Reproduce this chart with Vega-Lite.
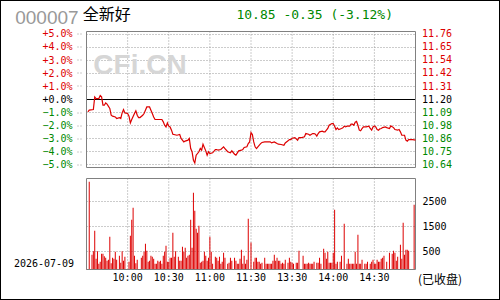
{
  "$schema": "https://vega.github.io/schema/vega-lite/v6.json",
  "width": 500,
  "height": 300,
  "autosize": "none",
  "padding": 0,
  "background": "white",
  "config": {
    "view": {"stroke": "#000000", "strokeWidth": 2},
    "axis": {"grid": false, "domain": false, "title": null, "labelFont": "DejaVu Sans Mono", "labelFontSize": 10, "labelColor": "#000000", "labelOverlap": false, "labelBound": false, "labelFlush": false}
  },
  "datasets": {
    "price": [
      {"m":1,"pct":-0.95},{"m":2,"pct":-0.82},{"m":5,"pct":-0.77},{"m":6,"pct":0.20},{"m":7,"pct":0.07},{"m":9,"pct":0.07},{"m":10,"pct":0.31},{"m":11,"pct":0.20},{"m":12,"pct":-0.44},{"m":13,"pct":-0.44},{"m":14,"pct":-0.26},{"m":15,"pct":-0.36},{"m":17,"pct":-0.69},{"m":18,"pct":-1.21},{"m":19,"pct":-1.28},{"m":21,"pct":-1.34},{"m":22,"pct":-1.46},{"m":24,"pct":-1.39},{"m":25,"pct":-1.46},{"m":26,"pct":-1.03},{"m":27,"pct":-0.77},{"m":28,"pct":-1.03},{"m":30,"pct":-1.08},{"m":31,"pct":-1.28},{"m":32,"pct":-1.80},{"m":33,"pct":-1.54},{"m":35,"pct":-1.08},{"m":36,"pct":-0.87},{"m":37,"pct":-1.21},{"m":38,"pct":-1.39},{"m":39,"pct":-1.39},{"m":41,"pct":-1.21},{"m":42,"pct":-1.08},{"m":44,"pct":-0.57},{"m":46,"pct":-0.57},{"m":47,"pct":-0.82},{"m":48,"pct":-1.08},{"m":49,"pct":-1.34},{"m":50,"pct":-1.54},{"m":55,"pct":-1.54},{"m":56,"pct":-1.72},{"m":57,"pct":-1.98},{"m":58,"pct":-2.11},{"m":59,"pct":-1.80},{"m":60,"pct":-2.05},{"m":61,"pct":-2.11},{"m":62,"pct":-2.36},{"m":63,"pct":-2.67},{"m":66,"pct":-2.75},{"m":68,"pct":-2.69},{"m":69,"pct":-3.00},{"m":71,"pct":-3.26},{"m":72,"pct":-3.20},{"m":74,"pct":-3.13},{"m":75,"pct":-3.00},{"m":76,"pct":-3.77},{"m":77,"pct":-4.02},{"m":78,"pct":-4.67},{"m":79,"pct":-4.87},{"m":80,"pct":-4.28},{"m":82,"pct":-4.02},{"m":83,"pct":-3.77},{"m":84,"pct":-3.90},{"m":85,"pct":-3.44},{"m":87,"pct":-3.95},{"m":88,"pct":-4.28},{"m":89,"pct":-4.02},{"m":90,"pct":-4.16},{"m":92,"pct":-4.10},{"m":94,"pct":-3.85},{"m":95,"pct":-3.85},{"m":96,"pct":-3.90},{"m":98,"pct":-3.85},{"m":100,"pct":-3.64},{"m":101,"pct":-3.77},{"m":103,"pct":-4.02},{"m":105,"pct":-4.10},{"m":106,"pct":-3.95},{"m":108,"pct":-4.21},{"m":109,"pct":-4.28},{"m":111,"pct":-3.95},{"m":113,"pct":-3.90},{"m":114,"pct":-3.85},{"m":115,"pct":-3.69},{"m":117,"pct":-3.64},{"m":118,"pct":-3.39},{"m":119,"pct":-3.26},{"m":120,"pct":-2.55},{"m":121,"pct":-2.70},{"m":122,"pct":-3.26},{"m":123,"pct":-3.64},{"m":124,"pct":-3.77},{"m":125,"pct":-3.64},{"m":127,"pct":-3.39},{"m":128,"pct":-3.31},{"m":130,"pct":-3.26},{"m":134,"pct":-3.26},{"m":135,"pct":-3.34},{"m":137,"pct":-3.26},{"m":139,"pct":-3.39},{"m":140,"pct":-3.44},{"m":142,"pct":-3.46},{"m":144,"pct":-3.52},{"m":145,"pct":-3.34},{"m":147,"pct":-3.18},{"m":148,"pct":-3.08},{"m":149,"pct":-3.08},{"m":150,"pct":-2.98},{"m":152,"pct":-2.93},{"m":154,"pct":-3.13},{"m":155,"pct":-2.93},{"m":157,"pct":-2.93},{"m":159,"pct":-2.87},{"m":160,"pct":-2.62},{"m":162,"pct":-2.67},{"m":163,"pct":-2.75},{"m":165,"pct":-2.62},{"m":166,"pct":-2.62},{"m":167,"pct":-2.67},{"m":168,"pct":-2.82},{"m":169,"pct":-2.62},{"m":170,"pct":-2.49},{"m":172,"pct":-2.44},{"m":173,"pct":-2.49},{"m":174,"pct":-2.49},{"m":176,"pct":-2.23},{"m":177,"pct":-1.98},{"m":179,"pct":-1.85},{"m":180,"pct":-1.85},{"m":181,"pct":-2.05},{"m":182,"pct":-2.31},{"m":183,"pct":-2.18},{"m":184,"pct":-2.31},{"m":186,"pct":-2.23},{"m":187,"pct":-2.18},{"m":188,"pct":-2.05},{"m":189,"pct":-2.11},{"m":190,"pct":-2.05},{"m":192,"pct":-2.05},{"m":193,"pct":-1.90},{"m":194,"pct":-1.90},{"m":195,"pct":-1.98},{"m":196,"pct":-1.75},{"m":197,"pct":-1.69},{"m":198,"pct":-1.98},{"m":199,"pct":-2.36},{"m":200,"pct":-2.41},{"m":201,"pct":-2.23},{"m":202,"pct":-2.11},{"m":203,"pct":-2.11},{"m":204,"pct":-2.11},{"m":206,"pct":-2.05},{"m":207,"pct":-2.23},{"m":208,"pct":-2.36},{"m":209,"pct":-2.11},{"m":210,"pct":-2.03},{"m":211,"pct":-2.11},{"m":212,"pct":-2.31},{"m":213,"pct":-2.36},{"m":214,"pct":-2.26},{"m":215,"pct":-2.23},{"m":216,"pct":-2.16},{"m":218,"pct":-2.11},{"m":219,"pct":-2.16},{"m":221,"pct":-2.23},{"m":222,"pct":-2.03},{"m":224,"pct":-2.16},{"m":225,"pct":-2.31},{"m":227,"pct":-2.36},{"m":228,"pct":-2.31},{"m":229,"pct":-2.49},{"m":230,"pct":-2.75},{"m":232,"pct":-2.75},{"m":233,"pct":-3.13},{"m":234,"pct":-3.20},{"m":235,"pct":-3.08},{"m":238,"pct":-3.08},{"m":240,"pct":-3.12}
    ],
    "vol": [
      {"m":0,"v":87},{"m":2,"v":3286},{"m":4,"v":367},{"m":5,"v":513},{"m":6,"v":1327},{"m":7,"v":207},{"m":8,"v":513},{"m":9,"v":10},{"m":10,"v":87},{"m":11,"v":407},{"m":12,"v":407},{"m":13,"v":313},{"m":14,"v":247},{"m":15,"v":127},{"m":16,"v":167},{"m":17,"v":1087},{"m":18,"v":33},{"m":19,"v":247},{"m":20,"v":207},{"m":21,"v":487},{"m":22,"v":167},{"m":24,"v":327},{"m":25,"v":47},{"m":26,"v":513},{"m":27,"v":127},{"m":28,"v":287},{"m":31,"v":87},{"m":32,"v":1127},{"m":33,"v":1767},{"m":34,"v":2247},{"m":35,"v":327},{"m":36,"v":33},{"m":37,"v":167},{"m":40,"v":247},{"m":41,"v":327},{"m":42,"v":487},{"m":43,"v":807},{"m":44,"v":527},{"m":45,"v":87},{"m":46,"v":127},{"m":47,"v":327},{"m":48,"v":287},{"m":49,"v":207},{"m":50,"v":10},{"m":51,"v":10},{"m":52,"v":127},{"m":53,"v":87},{"m":54,"v":127},{"m":55,"v":10},{"m":56,"v":327},{"m":57,"v":487},{"m":58,"v":727},{"m":59,"v":87},{"m":60,"v":87},
      {"m":61,"v":247},{"m":62,"v":247},{"m":63,"v":1247},{"m":64,"v":287},{"m":65,"v":513},{"m":67,"v":287},{"m":68,"v":127},{"m":69,"v":127},{"m":70,"v":687},{"m":71,"v":487},{"m":72,"v":647},{"m":73,"v":247},{"m":74,"v":327},{"m":75,"v":367},{"m":76,"v":1767},{"m":77,"v":647},{"m":78,"v":2847},{"m":79,"v":2127},{"m":80,"v":1407},{"m":81,"v":1247},{"m":82,"v":1527},{"m":83,"v":47},{"m":84,"v":87},{"m":85,"v":127},{"m":86,"v":487},{"m":87,"v":327},{"m":88,"v":127},{"m":89,"v":247},{"m":90,"v":1087},{"m":91,"v":487},{"m":92,"v":10},{"m":94,"v":287},{"m":95,"v":247},{"m":96,"v":127},{"m":97,"v":287},{"m":98,"v":10},{"m":99,"v":87},{"m":100,"v":447},{"m":101,"v":247},{"m":103,"v":10},{"m":104,"v":47},{"m":105,"v":247},{"m":106,"v":127},{"m":108,"v":247},{"m":109,"v":127},{"m":110,"v":10},{"m":111,"v":10},{"m":112,"v":207},{"m":113,"v":567},{"m":114,"v":10},{"m":115,"v":327},{"m":116,"v":10},{"m":117,"v":167},{"m":118,"v":1807},{"m":120,"v":860},
      {"m":122,"v":87},{"m":123,"v":247},{"m":124,"v":247},{"m":125,"v":87},{"m":126,"v":87},{"m":127,"v":10},{"m":128,"v":47},{"m":130,"v":247},{"m":131,"v":10},{"m":132,"v":10},{"m":133,"v":10},{"m":134,"v":10},{"m":135,"v":10},{"m":136,"v":127},{"m":137,"v":367},{"m":138,"v":127},{"m":139,"v":247},{"m":140,"v":127},{"m":141,"v":127},{"m":142,"v":10},{"m":143,"v":47},{"m":144,"v":10},{"m":145,"v":167},{"m":147,"v":47},{"m":148,"v":247},{"m":149,"v":87},{"m":150,"v":47},{"m":151,"v":10},{"m":153,"v":47},{"m":154,"v":47},{"m":155,"v":527},{"m":158,"v":327},{"m":159,"v":10},{"m":160,"v":10},{"m":161,"v":10},{"m":162,"v":47},{"m":163,"v":10},{"m":164,"v":10},{"m":165,"v":10},{"m":166,"v":87},{"m":168,"v":47},{"m":169,"v":47},{"m":170,"v":247},{"m":171,"v":10},{"m":173,"v":607},{"m":174,"v":447},{"m":175,"v":207},{"m":176,"v":487},{"m":177,"v":47},{"m":178,"v":47},{"m":179,"v":47},
      {"m":180,"v":447},{"m":181,"v":2167},{"m":182,"v":10},{"m":183,"v":87},{"m":185,"v":87},{"m":186,"v":327},{"m":188,"v":1607},{"m":190,"v":10},{"m":191,"v":207},{"m":192,"v":10},{"m":193,"v":10},{"m":194,"v":10},{"m":195,"v":10},{"m":196,"v":487},{"m":197,"v":10},{"m":198,"v":1167},{"m":199,"v":10},{"m":200,"v":10},{"m":201,"v":167},{"m":203,"v":10},{"m":204,"v":10},{"m":205,"v":87},{"m":207,"v":10},{"m":208,"v":87},{"m":209,"v":167},{"m":210,"v":10},{"m":211,"v":10},{"m":212,"v":167},{"m":213,"v":87},{"m":214,"v":87},{"m":215,"v":207},{"m":216,"v":247},{"m":217,"v":327},{"m":219,"v":87},{"m":221,"v":447},{"m":223,"v":407},{"m":224,"v":527},{"m":225,"v":447},{"m":226,"v":127},{"m":227,"v":287},{"m":229,"v":767},{"m":230,"v":207},{"m":231,"v":1647},{"m":232,"v":367},{"m":233,"v":567},{"m":234,"v":567},{"m":235,"v":527},{"m":239,"v":2367}
    ],
    "pctgrid": [{"g":-5},{"g":-4},{"g":-3},{"g":-2},{"g":-1},{"g":1},{"g":2},{"g":3},{"g":4},{"g":5}],
    "timegrid": [{"t":30},{"t":60},{"t":90},{"t":120},{"t":150},{"t":180},{"t":210}],
    "pricelev": [{"p":10.64},{"p":10.752},{"p":10.864},{"p":10.976},{"p":11.088},{"p":11.2},{"p":11.312},{"p":11.424},{"p":11.536},{"p":11.648},{"p":11.76}],
    "volgrid": [{"lv":500},{"lv":1500},{"lv":2500}],
    "one": [{}]
  },
  "layer": [
    {
      "layer": [
        {
          "data": {"name": "timegrid"},
          "mark": {"type": "rule", "stroke": "#999999", "strokeWidth": 1, "strokeDash": [1, 2]},
          "encoding": {
            "x": {"field": "t", "type": "quantitative", "scale": {"domain": [0, 240], "range": [81.5, 420.5], "nice": false, "zero": false},
              "axis": {"orient": "bottom", "offset": -30.5, "translate": 0, "values": [30, 60, 90, 120, 150, 180, 210], "tickCount": 7, "ticks": false, "tickSize": 0, "labelPadding": 3, "labelOverlap": false, "labelExpr": "datum.value == 30 ? '10:00' : datum.value == 60 ? '10:30' : datum.value == 90 ? '11:00' : datum.value == 120 ? '11:30' : datum.value == 150 ? '13:30' : datum.value == 180 ? '14:00' : '14:30'"}},
            "y": {"datum": -5.230769, "type": "quantitative"},
            "y2": {"datum": 5.230769}
          }
        },
        {
          "data": {"name": "pctgrid"},
          "mark": {"type": "rule", "stroke": "#999999", "strokeWidth": 1, "strokeDash": [1, 2]},
          "encoding": {
            "x": {"datum": 0, "type": "quantitative"},
            "x2": {"datum": 240},
            "y": {"field": "g", "type": "quantitative", "scale": {"domain": [-5.230769, 5.230769], "range": [167.5, 31.5], "nice": false, "zero": false},
              "axis": {"orient": "left", "offset": -81.5, "translate": 0, "values": [-5, -4, -3, -2, -1, 0, 1, 2, 3, 4, 5], "tickCount": 11, "labelOverlap": false, "labelExpr": "format(datum.value, '+.1f') + '%'", "ticks": true, "tickSize": 5, "tickDash": [1, 2], "tickColor": {"condition": {"test": "datum.value == 0", "value": "transparent"}, "value": "#999999"}, "labelPadding": 4, "labelColor": {"condition": [{"test": "datum.value > 0", "value": "#dd0000"}, {"test": "datum.value == 0", "value": "#000000"}], "value": "#008800"}}}
          }
        },
        {
          "data": {"name": "one"},
          "mark": {"type": "text", "text": "CFi.CN", "font": "Liberation Sans", "fontWeight": "bold", "fontSize": 28, "fill": "#d6d6d6", "align": "left", "baseline": "alphabetic"},
          "encoding": {"x": {"datum": 5.0, "type": "quantitative"}, "y": {"datum": 1.94, "type": "quantitative"}}
        },
        {
          "data": {"name": "one"},
          "mark": {"type": "rule", "stroke": "#000000", "strokeWidth": 1},
          "encoding": {"x": {"datum": 0, "type": "quantitative"}, "x2": {"datum": 240}, "y": {"datum": 0, "type": "quantitative"}}
        },
        {
          "data": {"name": "one"},
          "mark": {"type": "rect", "filled": false, "stroke": "#808080", "strokeWidth": 1},
          "encoding": {"x": {"datum": 0, "type": "quantitative"}, "x2": {"datum": 240}, "y": {"datum": -5.230769, "type": "quantitative"}, "y2": {"datum": 5.230769}}
        },
        {
          "data": {"name": "price"},
          "mark": {"type": "line", "stroke": "#dd0000", "strokeWidth": 1.2},
          "encoding": {"x": {"field": "m", "type": "quantitative"}, "y": {"field": "pct", "type": "quantitative"}}
        },
        {
          "data": {"name": "one"},
          "mark": {"type": "text", "text": "000007", "font": "Liberation Sans", "fontSize": 19, "fill": "#999999", "align": "left", "baseline": "alphabetic"},
          "encoding": {"x": {"datum": -52.0, "type": "quantitative"}, "y": {"datum": 5.81, "type": "quantitative"}}
        },
        {
          "data": {"name": "one"},
          "mark": {"type": "text", "text": "全新好", "font": "Noto Sans CJK SC", "fontSize": 16, "fill": "#000000", "align": "left", "baseline": "alphabetic"},
          "encoding": {"x": {"datum": -2.8, "type": "quantitative"}, "y": {"datum": 6.08, "type": "quantitative"}}
        },
        {
          "data": {"name": "one"},
          "mark": {"type": "text", "text": "10.85 -0.35 (-3.12%)", "font": "DejaVu Sans Mono", "fontSize": 13, "fill": "#008800", "align": "left", "baseline": "alphabetic"},
          "encoding": {"x": {"datum": 109.4, "type": "quantitative"}, "y": {"datum": 6.154, "type": "quantitative"}}
        }
      ]
    },
    {
      "data": {"name": "pricelev"},
      "mark": {"type": "rule", "strokeOpacity": 0},
      "encoding": {
        "x": {"datum": 0, "type": "quantitative"},
        "x2": {"datum": 240},
        "y": {"field": "p", "type": "quantitative", "scale": {"domain": [10.614154, 11.785846], "range": [167.5, 31.5], "nice": false, "zero": false},
          "axis": {"orient": "right", "offset": -80, "translate": 0, "values": [10.64, 10.752, 10.864, 10.976, 11.088, 11.2, 11.312, 11.424, 11.536, 11.648, 11.76], "tickCount": 11, "format": ".2f", "labelOverlap": false, "ticks": false, "tickSize": 0, "labelPadding": 2, "labelColor": {"condition": [{"test": "datum.value > 11.201", "value": "#dd0000"}, {"test": "datum.value < 11.199", "value": "#008800"}], "value": "#000000"}}}
      }
    },
    {
      "layer": [
        {
          "data": {"name": "timegrid"},
          "mark": {"type": "rule", "stroke": "#999999", "strokeWidth": 1, "strokeDash": [1, 2]},
          "encoding": {"x": {"field": "t", "type": "quantitative"}, "y": {"datum": -220, "type": "quantitative"}, "y2": {"datum": 3420}}
        },
        {
          "data": {"name": "volgrid"},
          "mark": {"type": "rule", "stroke": "#999999", "strokeWidth": 1, "strokeDash": [1, 2]},
          "encoding": {"x": {"datum": 0, "type": "quantitative"}, "x2": {"datum": 240}, "y": {"field": "lv", "type": "quantitative"}}
        },
        {
          "data": {"name": "vol"},
          "mark": {"type": "bar", "fill": "#dd0000", "size": 1},
          "encoding": {
            "x": {"field": "m", "type": "quantitative"},
            "y": {"field": "v", "type": "quantitative", "scale": {"domain": [-220, 3420], "range": [269.5, 178.5], "nice": false, "zero": false},
              "axis": {"orient": "right", "offset": -80, "translate": 0, "values": [500, 1500, 2500], "tickCount": 3, "format": "d", "labelOverlap": false, "ticks": false, "tickSize": 0, "labelPadding": 2.5, "labelColor": "#000000"}},
            "y2": {"datum": -220}
          }
        },
        {
          "data": {"name": "one"},
          "mark": {"type": "rect", "filled": false, "stroke": "#808080", "strokeWidth": 1},
          "encoding": {"x": {"datum": 0, "type": "quantitative"}, "x2": {"datum": 240}, "y": {"datum": -220, "type": "quantitative"}, "y2": {"datum": 3420}}
        },
        {
          "data": {"name": "one"},
          "mark": {"type": "text", "text": "2026-07-09", "font": "DejaVu Sans Mono", "fontSize": 10, "fill": "#000000", "align": "left", "baseline": "alphabetic"},
          "encoding": {"x": {"datum": -52.96, "type": "quantitative"}, "y": {"datum": -108, "type": "quantitative"}}
        },
        {
          "data": {"name": "one"},
          "mark": {"type": "text", "text": "(已收盘)", "font": "Noto Sans CJK SC", "fontSize": 12, "fill": "#000000", "align": "left", "baseline": "alphabetic"},
          "encoding": {"x": {"datum": 241.8, "type": "quantitative"}, "y": {"datum": -800, "type": "quantitative"}}
        }
      ]
    }
  ],
  "resolve": {"scale": {"y": "independent"}}
}
